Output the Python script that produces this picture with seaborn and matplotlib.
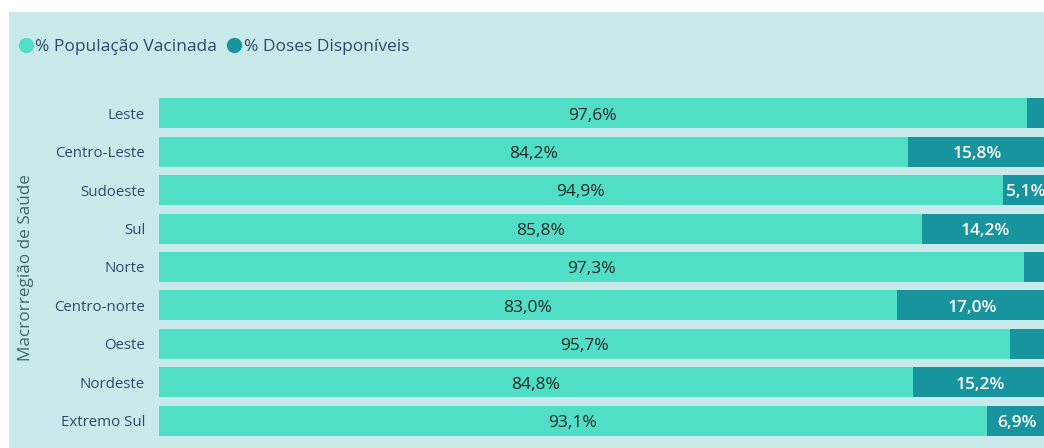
import matplotlib
matplotlib.use("Agg")
import matplotlib.pyplot as plt
import seaborn as sns
import pandas as pd
from matplotlib.patches import Rectangle
from matplotlib.lines import Line2D

regioes = ["Leste", "Centro-Leste", "Sudoeste", "Sul", "Norte", "Centro-norte", "Oeste", "Nordeste", "Extremo Sul"]
vacinada = [97.6, 84.2, 94.9, 85.8, 97.3, 83.0, 95.7, 84.8, 93.1]
doses = [2.4, 15.8, 5.1, 14.2, 2.7, 17.0, 4.3, 15.2, 6.9]

LIGHT = "#50dfc6"
DARK = "#17949d"
BG = "#c8eaea"
TICK = "#2c4a70"

sns.set_theme(style="white")
plt.rcParams['font.family'] = ['Open Sans', 'DejaVu Sans']

df = pd.DataFrame({"regiao": regioes, "vac": vacinada, "doses": doses})
df["total"] = df["vac"] + df["doses"]

W, H = 1044, 448
fig = plt.figure(figsize=(W / 100, H / 100), dpi=100, facecolor="white")
fig.patches.append(Rectangle((9 / W, 0), 1 - 9 / W, 1 - 12 / H, transform=fig.transFigure,
                             facecolor=BG, edgecolor="none", zorder=-10))

left = 159 / W
top_px, bot_px = 94, 440
ax = fig.add_axes([left, 1 - bot_px / H, 1 - left, (bot_px - top_px) / H])
ax.set_zorder(5)
ax.patch.set_alpha(0)

sns.barplot(data=df, x="total", y="regiao", color=DARK, width=0.78, saturation=1, ax=ax,
            orient="h", linewidth=0)
sns.barplot(data=df, x="vac", y="regiao", color=LIGHT, width=0.78, saturation=1, ax=ax,
            orient="h", linewidth=0)

ax.set_xlim(0, 99.55)
ax.set_ylim(8.5, -0.5)

for i, (v, d) in enumerate(zip(vacinada, doses)):
    ax.text(v / 2, i + 0.06, f"{v:.1f}%".replace(".", ","), ha="center", va="center",
            fontsize=12.5, color="#252525")
    if d >= 5:
        ax.text(v + d / 2, i + 0.06, f"{d:.1f}%".replace(".", ","), ha="center", va="center",
                fontsize=12.5, color="white", fontweight="semibold", clip_on=True)

for s in ax.spines.values():
    s.set_visible(False)
ax.set_xticks([])
ax.set_xlabel("")
ax.set_ylabel("")
ax.tick_params(axis="y", length=0, pad=10, labelsize=10.8, labelcolor=TICK)

fig.text(26 / W, 1 - 268 / H, "Macrorregião de Saúde", rotation=90, ha="center", va="center",
         fontsize=12.3, color="#3f6a6a")

handles = [Line2D([], [], marker="o", linestyle="none", markersize=11, markerfacecolor=LIGHT,
                  markeredgecolor="none", label="% População Vacinada"),
           Line2D([], [], marker="o", linestyle="none", markersize=11, markerfacecolor=DARK,
                  markeredgecolor="none", label="% Doses Disponíveis")]
leg = fig.legend(handles=handles, loc="center left", bbox_to_anchor=(17 / W, 1 - 47 / H),
                 ncol=2, frameon=False, handletextpad=0.05, columnspacing=0.5,
                 handlelength=1.0, fontsize=12.5, borderaxespad=0, borderpad=0)
for t in leg.get_texts():
    t.set_color(TICK)

fig.savefig("out.png", dpi=100, facecolor="white")
